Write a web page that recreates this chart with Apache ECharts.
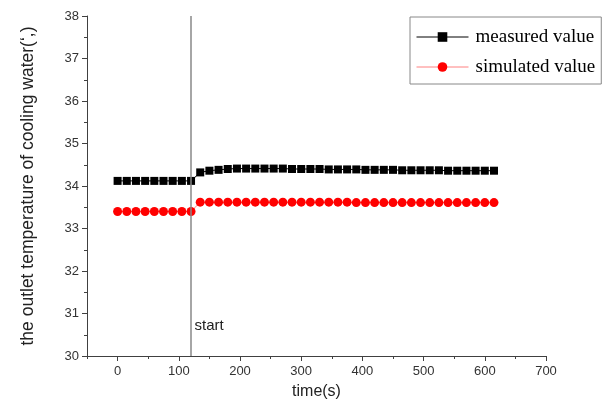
<!DOCTYPE html>
<html>
<head>
<meta charset="utf-8">
<script src="https://cdn.jsdelivr.net/npm/echarts@6/dist/echarts.min.js"></script>
<style>html,body{margin:0;padding:0;background:#fff;}#c{width:610px;height:403px;}</style>
</head>
<body>
<div id="c"></div>
<script>
var times = [0,15,30,45,60,75,90,105,120,135,150,165,180,195,210,225,240,255,270,285,300,315,330,345,360,375,390,405,420,435,450,465,480,495,510,525,540,555,570,585,600,615];
var measured = [34.12,34.12,34.12,34.12,34.12,34.12,34.12,34.12,34.12,
  34.32,34.36,34.38,34.40,34.41,34.41,34.41,34.41,34.41,34.41,34.40,34.40,34.40,34.40,
  34.39,34.39,34.39,34.39,34.38,34.38,34.38,34.38,34.37,34.37,34.37,34.37,34.37,
  34.36,34.36,34.36,34.36,34.36,34.36];
var simulated = [33.40,33.40,33.40,33.40,33.40,33.40,33.40,33.40,33.40,
  33.62,33.62,33.62,33.62,33.62,33.62,33.62,33.62,33.62,33.62,33.62,33.62,33.62,33.62,
  33.62,33.62,33.62,33.61,33.61,33.61,33.61,33.61,33.61,33.61,33.61,33.61,33.61,
  33.61,33.61,33.61,33.61,33.61,33.61];
var xMajorTicks = [0,100,200,300,400,500,600,700];
var startTime = 120;
var startLabel = 'start';
var seriesNames = ['measured value','simulated value'];

function pairs(ys){ return times.map(function(t,i){ return [t, ys[i]]; }); }

var axisColor = '#404040';
var labelColor = '#333';
var chart = echarts.init(document.getElementById('c'));
chart.setOption({
  animation: false,
  backgroundColor: '#fff',
  grid: {left: 87, right: 64, top: 16, bottom: 47, containLabel: false, outerBoundsMode: 'none'},
  legend: {
    orient: 'vertical',
    left: 410, top: 17,
    padding: [10, 6, 7, 6],
    borderColor: '#888', borderWidth: 1,
    itemWidth: 52, itemHeight: 12, itemGap: 10,
    itemStyle: {borderWidth: 0},
    lineStyle: {width: 1},
    textStyle: {fontFamily: 'Liberation Serif', fontSize: 19, color: '#000', lineHeight: 20, padding: [0,0,0,2]},
    data: seriesNames
  },
  xAxis: [{
    type: 'value', min: -50, max: 700,
    name: 'time(s)', nameLocation: 'middle', nameGap: 28,
    nameTextStyle: {fontFamily: 'Liberation Sans', fontSize: 16, color: '#222'},
    splitLine: {show: false},
    axisLine: {onZero: false, lineStyle: {color: axisColor, width: 1}},
    axisTick: {show: true, length: 5, customValues: xMajorTicks, lineStyle: {color: axisColor}},
    axisLabel: {customValues: xMajorTicks, fontFamily: 'Liberation Sans', fontSize: 13, color: labelColor, margin: 9}
  }, {
    type: 'value', min: -50, max: 700, interval: 50, position: 'bottom',
    splitLine: {show: false},
    axisLine: {show: false, onZero: false},
    axisTick: {show: true, length: 3, lineStyle: {color: axisColor}},
    axisLabel: {show: false}
  }],
  yAxis: {
    type: 'value', min: 30, max: 38, interval: 1,
    name: 'the outlet temperature of cooling water(\u2018,)', nameLocation: 'middle', nameGap: 50,
    nameTextStyle: {fontFamily: 'Liberation Sans', fontSize: 17.5, color: '#222'},
    splitLine: {show: false},
    axisLine: {show: true, onZero: false, lineStyle: {color: axisColor, width: 1}},
    axisTick: {show: true, length: 5, lineStyle: {color: axisColor}},
    minorTick: {show: true, splitNumber: 2, length: 3, lineStyle: {color: axisColor}},
    axisLabel: {fontFamily: 'Liberation Sans', fontSize: 13, color: labelColor, margin: 8}
  },
  series: [{
    name: seriesNames[0], type: 'line', xAxisIndex: 0,
    data: pairs(measured),
    symbol: 'rect', symbolSize: 8,
    itemStyle: {color: '#000'},
    lineStyle: {color: '#000', width: 1},
    markLine: {
      silent: true, symbol: 'none',
      lineStyle: {color: '#888', width: 1.5, type: 'solid'},
      label: {show: false},
      data: [{xAxis: startTime}]
    },
    markPoint: {
      silent: true, symbol: 'circle', symbolSize: 1,
      itemStyle: {color: 'rgba(0,0,0,0)'},
      label: {show: true, position: 'right', distance: 3, formatter: startLabel,
        fontFamily: 'Liberation Sans', fontSize: 15, color: '#222'},
      data: [{coord: [startTime, 30.7]}]
    },
    z: 3
  }, {
    name: seriesNames[1], type: 'line', xAxisIndex: 0,
    data: pairs(simulated),
    symbol: 'circle', symbolSize: 9,
    itemStyle: {color: '#ff0000'},
    lineStyle: {color: '#ff8080', width: 1},
    z: 2
  }]
});
</script>
</body>
</html>
